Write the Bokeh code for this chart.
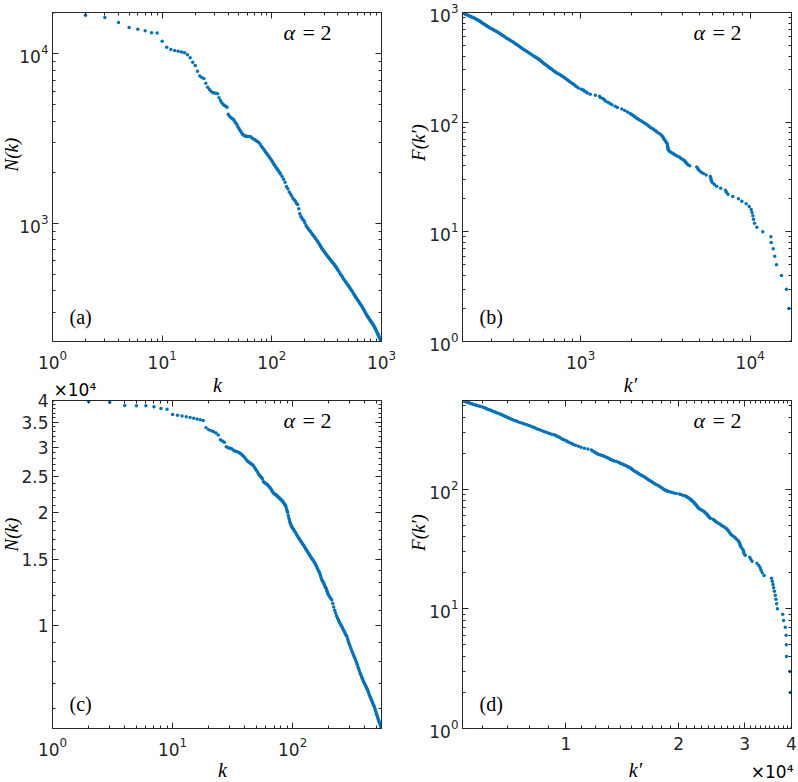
import math
from bokeh.plotting import figure
from bokeh.models import Range1d, FixedTicker, LogAxis, CustomJSTickFormatter, GridBox
from bokeh.core.properties import value
from bokeh.embed import file_html
from bokeh.resources import INLINE

BLUE = "#0072BD"
AX = "#262626"
TICK_FONT = "DejaVu Sans"
SERIF = "Liberation Serif"

# ---------------- data: panels (a)/(b)  rank k  ->  N(k) ----------------
k_a = (list(range(1, 61)) + list(range(62, 121, 2)) + list(range(124, 201, 4))
       + list(range(205, 401, 5)) + list(range(410, 1001, 10)))
N_a = [
    17530, 16900, 16380, 15300, 14300, 13970, 13670, 13300, 13250, 11870,
    10950, 10610, 10460, 10370, 10250, 10140, 9870, 9470, 8930, 8530,
    7900, 7400, 7250, 7150, 6700, 6350, 6150, 6000, 5900, 5880,
    5860, 5820, 5500, 5300, 5150, 5020, 4950, 4900, 4840, 4400,
    4300, 4230, 4170, 4120, 4080, 3980, 3900, 3830, 3720, 3640,
    3560, 3494, 3420, 3360, 3320, 3295, 3280, 3270, 3265, 3255,
    3250, 3240, 3190, 3150, 3110, 3070, 3040, 3000, 2940, 2860,
    2800, 2750, 2690, 2630, 2570, 2530, 2480, 2430, 2390, 2340,
    2290, 2240, 2200, 2160, 2120, 2090, 2060, 2020, 1990, 1957,
    1890, 1820, 1750, 1650, 1600, 1530, 1490, 1450, 1400, 1380,
    1350, 1310, 1290, 1220, 1140, 1096, 1075, 1050, 1038, 1010,
    970, 948, 930, 912, 895, 876, 860, 845, 830, 815,
    800, 788, 772, 757, 742, 727, 713, 703, 692, 682,
    672, 662, 652, 645, 636, 628, 620, 612, 605, 598,
    591, 585, 579, 573, 566, 559, 552, 545, 538, 531,
    518, 505, 494, 483, 472, 462, 453, 444, 436, 428,
    420, 412, 405, 398, 390, 382, 376, 369, 363, 357,
    351, 346, 340, 335, 330, 325, 319, 314, 309, 304,
    299, 294, 289, 285, 281, 278, 274, 271, 267, 264,
    261, 258, 255, 252, 249, 246, 242, 239, 235, 232,
    228, 225, 221, 218, 214, 211, 208, 206, 203, 201,
]

# ---------------- data: panels (c)/(d) ----------------
k_c = (list(range(1, 101)) + list(range(102, 201, 2)) + list(range(204, 301, 4))
       + list(range(305, 551, 5)))
N_c = [
    40000, 39750, 39590, 38800, 38750, 38700, 38500, 38100, 37900, 36690,
    36500, 36350, 36200, 36000, 35850, 35700, 35550, 35370, 33810, 33420,
    33180, 32990, 32720, 32350, 31400, 31150, 30950, 30100, 29890, 29800,
    29720, 29500, 29300, 29200, 29120, 29000, 28830, 28600, 28350, 28100,
    27800, 27550, 27400, 27250, 27100, 26950, 26780, 26500, 26250, 26000,
    25750, 25480, 25220, 25050, 24900, 24700, 24300, 24150, 24050, 23950,
    23860, 23750, 23620, 23490, 23380, 23200, 23000, 22800, 22650, 22550,
    22460, 22400, 22330, 22250, 22150, 22080, 22000, 21900, 21800, 21700,
    21620, 21550, 21430, 21300, 21190, 21060, 20930, 20800, 20500, 20250,
    20100, 19700, 19400, 19150, 18900, 18700, 18580, 18450, 18320, 18200,
    18060, 17880, 17720, 17530, 17340, 17180, 17030, 16890, 16750, 16610,
    16470, 16360, 16220, 16080, 15950, 15820, 15690, 15570, 15460, 15350,
    15240, 15130, 15050, 14970, 14860, 14750, 14650, 14520, 14400, 14260,
    14170, 14010, 13920, 13820, 13650, 13480, 13320, 13200, 13130, 13050,
    12950, 12860, 12740, 12650, 12560, 12440, 12320, 12200, 12110, 12040,
    11920, 11800, 11700, 11450, 11200, 10980, 10800, 10620, 10480, 10370,
    10250, 10140, 10050, 9950, 9840, 9750, 9660, 9580, 9480, 9400,
    9310, 9170, 9040, 8930, 8820,
    8700, 8580, 8470, 8360, 8260, 8170, 8070, 7970, 7880, 7760,
    7660, 7550, 7450, 7380, 7300, 7220, 7140, 7070, 7010, 6960,
    6900, 6840, 6790, 6730, 6670, 6600, 6530, 6470, 6420, 6360,
    6310, 6250, 6190, 6140, 6100, 6050, 5990, 5920, 5860, 5790,
    5740, 5680, 5630, 5580, 5530, 5480, 5430, 5380, 5330, 5300,
]
assert len(k_a) == len(N_a), (len(k_a), len(N_a))
assert len(k_c) == len(N_c), (len(k_c), len(N_c))

# ---------------- ticks ----------------
log_major_1_1000 = [1, 10, 100, 1000]
log_minor_1_1000 = [2, 3, 4, 5, 6, 7, 8, 9, 20, 30, 40, 50, 60, 70, 80, 90,
                    200, 300, 400, 500, 600, 700, 800, 900]
log_major_1e3_1e4 = [1000, 10000]
log_minor_1e3_1e4 = [300, 400, 500, 600, 700, 800, 900,
                     2000, 3000, 4000, 5000, 6000, 7000, 8000, 9000]
log_major_1_100 = [1, 10, 100]
log_minor_1_100 = [2, 3, 4, 5, 6, 7, 8, 9, 20, 30, 40, 50, 60, 70, 80, 90,
                   200, 300, 400, 500]
c_y_ticks = [10000, 15000, 20000, 25000, 30000, 35000, 40000]
c_y_labels = ["1", "1.5", "2", "2.5", "3", "3.5", "4"]
c_y_minor = [6000, 7000, 8000, 9000, 11000, 12000, 13000, 14000, 16000, 17000,
             18000, 19000, 21000, 22000, 23000, 24000, 26000, 27000, 28000,
             29000, 31000, 32000, 33000, 34000, 36000, 37000, 38000, 39000]
d_x_ticks = [10000, 20000, 30000, 40000]
d_x_labels = ["1", "2", "3", "4"]
d_x_minor = [6000, 7000, 8000, 9000, 11000, 12000, 13000, 14000, 15000, 16000,
             17000, 18000, 19000, 21000, 22000, 23000, 24000, 25000, 26000,
             27000, 28000, 29000, 31000, 32000, 33000, 34000, 35000, 36000,
             37000, 38000, 39000]

# panel texts
panel_tags = ["(a)", "(b)", "(c)", "(d)"]
x_titles = ["k", "k\u2032", "k", "k\u2032"]
y_titles = ["N(k)", "F(k\u2032)", "N(k)", "F(k\u2032)"]
multiplier = "\u00d710\u2074"


def label_fmt(tick_vals, tick_texts):
    return CustomJSTickFormatter(args=dict(tv=tick_vals, lv=tick_texts),
                                 code="const i = tv.indexOf(tick); return i >= 0 ? lv[i] : '';")


def style_axis(ax, show_labels=True):
    ax.axis_line_color = AX
    ax.axis_line_width = 1
    ax.major_tick_line_color = AX
    ax.minor_tick_line_color = AX
    ax.major_tick_in = 6
    ax.major_tick_out = 0
    ax.minor_tick_in = 3
    ax.minor_tick_out = 0
    ax.major_label_text_color = AX
    ax.major_label_text_font = TICK_FONT
    if show_labels:
        ax.major_label_text_font_size = "17px"
    else:
        ax.major_label_text_font_size = "0px"
        ax.major_label_standoff = 0
        ax.formatter = CustomJSTickFormatter(code="return '';")


def panel(xr, yr, xt, xm, yt, ym, W, H, bl, br, bt, bb, xfmt=None, yfmt=None):
    p = figure(width=W, height=H, x_axis_type="log", y_axis_type="log",
               x_range=Range1d(*xr), y_range=Range1d(*yr),
               output_backend="svg", toolbar_location=None,
               min_border_left=bl, min_border_right=br,
               min_border_top=bt, min_border_bottom=bb)
    p.grid.visible = False
    p.outline_line_color = AX
    xtick = FixedTicker(ticks=xt, minor_ticks=xm)
    ytick = FixedTicker(ticks=yt, minor_ticks=ym)
    xa, ya = p.xaxis[0], p.yaxis[0]
    xa.ticker = xtick
    ya.ticker = ytick
    if xfmt is not None:
        xa.formatter = xfmt
    if yfmt is not None:
        ya.formatter = yfmt
    style_axis(xa)
    style_axis(ya)
    xa.major_label_standoff = 8
    ya.major_label_standoff = 4
    top = LogAxis(ticker=xtick)
    right = LogAxis(ticker=ytick)
    style_axis(top, False)
    style_axis(right, False)
    p.add_layout(top, "above")
    p.add_layout(right, "right")
    return p


# column widths / row heights (grid starts at the page's top-left corner)
LW, RW, TH, BH = 415, 383, 388, 394
# frame boxes in page pixels (left, right, top, bottom)
frames = [(52, 381, 12, 341), (462, 791, 12, 341), (52, 381, 400, 728), (462, 791, 400, 728)]

pa = panel((1, 1000), (201, 17530), log_major_1_1000, log_minor_1_1000,
           log_major_1e3_1e4, log_minor_1e3_1e4, LW, TH, 52, 34, 12, 47)
pa.scatter(k_a, N_a, size=3.5, fill_color=BLUE, line_color=None)

pb = panel((201, 17530), (1, 1000), log_major_1e3_1e4, log_minor_1e3_1e4,
           log_major_1_1000, log_minor_1_1000, RW, TH, 47, 7, 12, 47)
pb.scatter(N_a, k_a, size=3.5, fill_color=BLUE, line_color=None)

pc = panel((1, 550), (5300, 40000), log_major_1_100, log_minor_1_100,
           c_y_ticks, c_y_minor, LW, BH, 52, 34, 12, 54,
           yfmt=label_fmt(c_y_ticks, c_y_labels))
pc.scatter(k_c, N_c, size=3.5, fill_color=BLUE, line_color=None)

pd = panel((5300, 40000), (1, 550), d_x_ticks, d_x_minor,
           log_major_1_100, log_minor_1_100, RW, BH, 47, 7, 12, 54,
           xfmt=label_fmt(d_x_ticks, d_x_labels))
pd.scatter(N_c, k_c, size=3.5, fill_color=BLUE, line_color=None)

# ---------------- transparent overlay for all free texts (page pixel coords) ----------------
ov = figure(width=LW + RW, height=TH + BH, x_range=Range1d(0, LW + RW),
            y_range=Range1d(TH + BH, 0), x_axis_location=None, y_axis_location=None,
            toolbar_location=None, output_backend="svg", min_border=0,
            min_border_left=0, min_border_right=0, min_border_top=0, min_border_bottom=0,
            outline_line_color=None, background_fill_color=None, border_fill_color=None,
            frame_align=False)
ov.grid.visible = False


def otext(x, y, s, size, font=SERIF, style="normal", align="left", angle=0.0):
    # y is the vertical middle of the text box
    ov.text(x=[x], y=[y], text=[s], text_font=value(font),
            text_font_size=value(f"{size}px"), text_font_style=value(style),
            text_align=value(align), text_baseline=value("middle"),
            angle=angle, text_color="black")


ylab_pos = [(10.5, 154), (418, 142), (10.5, 534), (418, 532)]
xlab_pos = [(217, 384), (630, 384), (222, 769), (635, 769)]
for i, (L, R, T, B) in enumerate(frames):
    otext(R - 98, T + 20, "\u03b1", 22, style="italic")
    otext(R - 79, T + 20, "= 2", 22)
    otext(L + 17, B - 25, panel_tags[i], 20)
    otext(xlab_pos[i][0], xlab_pos[i][1], x_titles[i], 20, style="italic", align="center")
    otext(ylab_pos[i][0], ylab_pos[i][1], y_titles[i], 19, style="italic",
          align="center", angle=math.pi / 2)

otext(53, 389, multiplier, 17, font=TICK_FONT)
otext(793, 771, multiplier, 17, font=TICK_FONT, align="right")

layout = GridBox(children=[(pa, 0, 0), (pb, 0, 1), (pc, 1, 0), (pd, 1, 1), (ov, 0, 0, 2, 2)])
open("out.html", "w").write(file_html(layout, INLINE, title="N(k) and F(k')"))
